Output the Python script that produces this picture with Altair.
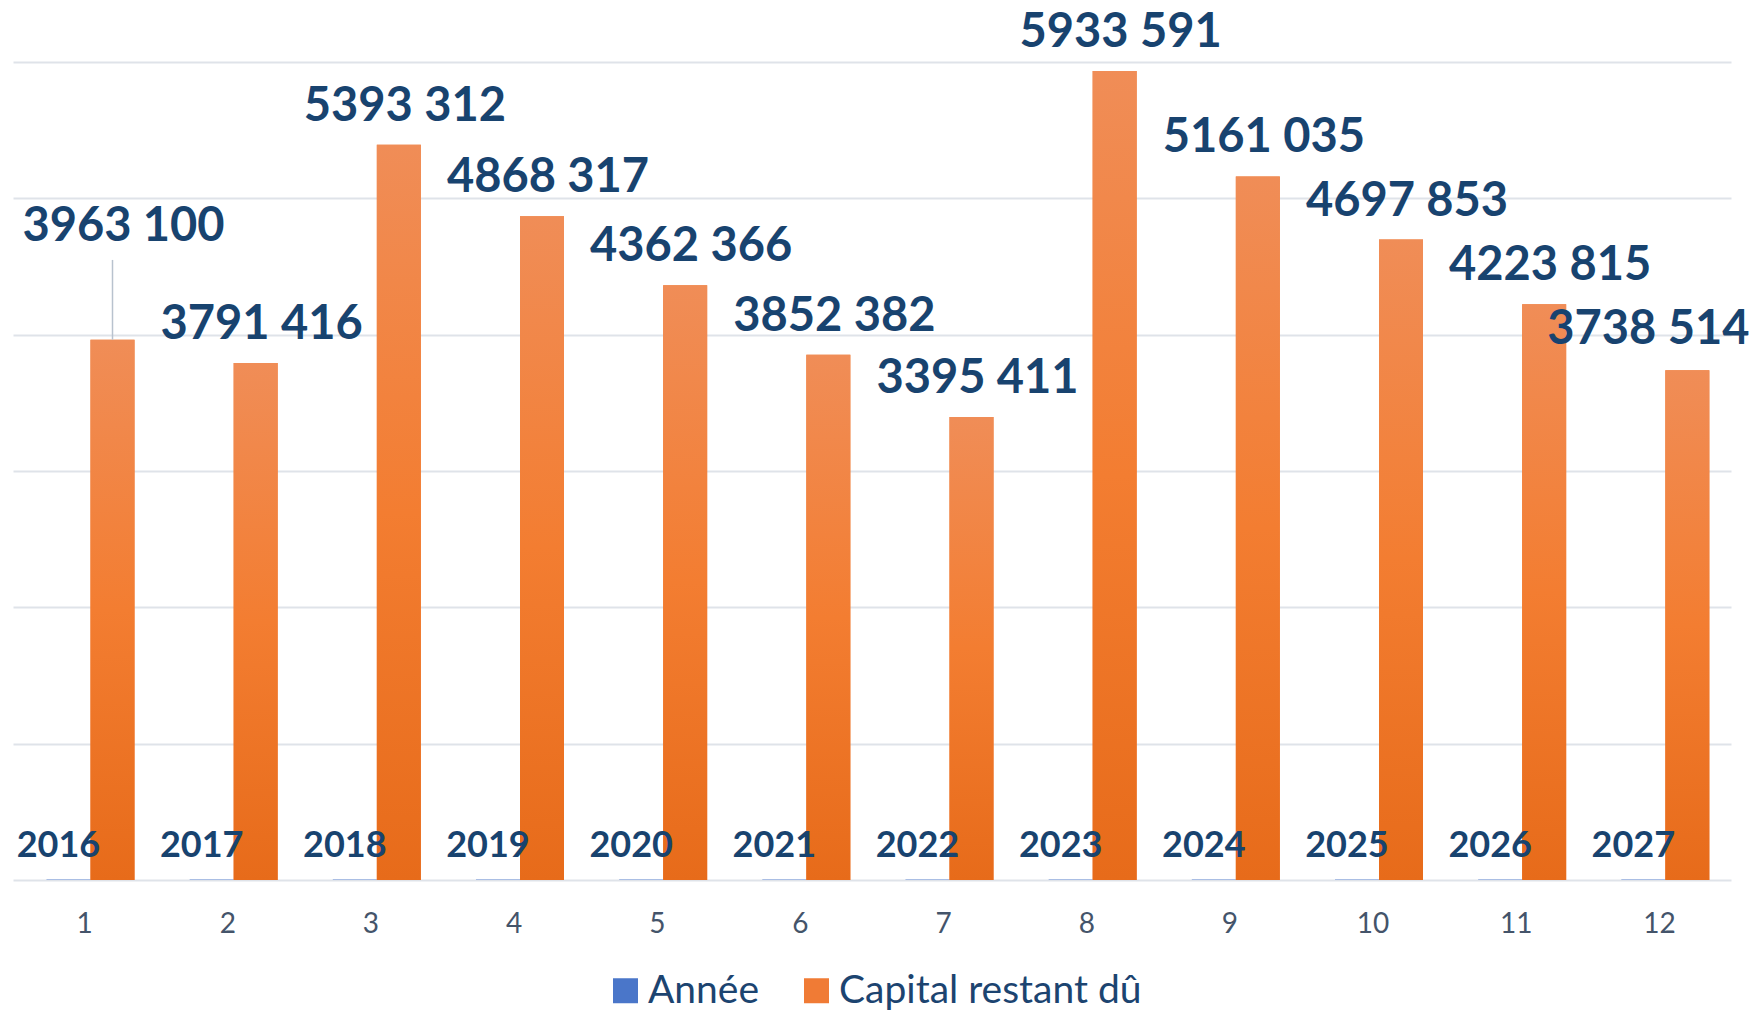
import altair as alt
import pandas as pd

categories = list(range(1, 13))
annees = [2016, 2017, 2018, 2019, 2020, 2021, 2022, 2023, 2024, 2025, 2026, 2027]
capital = [3963100, 3791416, 5393312, 4868317, 4362366, 3852382,
           3395411, 5933591, 5161035, 4697853, 4223815, 3738514]
series = ["Année", "Capital restant dû"]

rows = []
for c, a, v in zip(categories, annees, capital):
    rows.append({"cat": c, "series": series[0], "value": a, "label": str(a)})
    rows.append({"cat": c, "series": series[1], "value": v,
                 "label": f"{v // 1000} {v % 1000:03d}"})
df = pd.DataFrame(rows)

FONT = "Lato"
VAL_COLOR = "#18436f"

orange_grad = {"gradient": "linear", "x1": 0, "y1": 0, "x2": 0, "y2": 1,
               "stops": [{"offset": 0, "color": "#f08d57"},
                         {"offset": 0.5, "color": "#f37d31"},
                         {"offset": 1, "color": "#e76b1a"}]}
blue_grad = {"gradient": "linear", "x1": 0, "y1": 0, "x2": 0, "y2": 1,
             "stops": [{"offset": 0, "color": "#5b87d3"},
                       {"offset": 1, "color": "#2f63ba"}]}

x_enc = alt.X("cat:O", scale=alt.Scale(paddingInner=0, paddingOuter=0),
              axis=alt.Axis(title=None, labelAngle=0, ticks=False, tickSize=0,
                            domain=False, grid=False, labelFontSize=28,
                            labelFont=FONT, labelColor="#44546a",
                            labelBaseline="alphabetic", labelPadding=52))
y_enc = alt.Y("value:Q", scale=alt.Scale(domain=[0, 6000000], nice=False),
              axis=alt.Axis(title=None, labels=False, ticks=False, domain=False,
                            grid=True, gridColor="#dfe3e9", gridWidth=2,
                            values=[0, 1000000, 2000000, 3000000, 4000000,
                                    5000000, 6000000]))
xo_enc = alt.XOffset("series:N",
                     scale=alt.Scale(domain=series, paddingOuter=0.625,
                                     paddingInner=0, range=[6, 149]))

base = alt.Chart(df).encode(x=x_enc, y=y_enc, xOffset=xo_enc)

legend_bars = base.mark_bar().encode(
    color=alt.Color("series:N",
                    scale=alt.Scale(domain=series, range=["#4a76c9", "#f07b35"]),
                    legend=alt.Legend(title=None, orient="none", direction="horizontal",
                                      legendX=593, legendY=909, symbolType="square",
                                      symbolSize=625, symbolStrokeWidth=0,
                                      labelFont=FONT, labelFontSize=39,
                                      labelColor="#1c4470", labelOffset=3,
                                      columnPadding=37, padding=0,
                                      labelLimit=500))
)

bars_a = base.transform_filter(alt.datum.series == series[0]).mark_bar(color=blue_grad)
bars_c = base.transform_filter(alt.datum.series == series[1]).mark_bar(color=orange_grad)

text_common = dict(font=FONT, fontWeight="bold", color=VAL_COLOR,
                   baseline="alphabetic", align="center")

vals = base.transform_filter(
    (alt.datum.series == series[1]) & (alt.datum.cat != 1) & (alt.datum.cat != 12)
).mark_text(fontSize=47, dx=6, dy=-24, **text_common).encode(text="label:N")

val1 = base.transform_filter(
    (alt.datum.series == series[1]) & (alt.datum.cat == 1)
).mark_text(fontSize=47, dx=11, dy=-99, **text_common).encode(text="label:N")

val12 = base.transform_filter(
    (alt.datum.series == series[1]) & (alt.datum.cat == 12)
).mark_text(fontSize=47, dx=-39, dy=-26, **text_common).encode(text="label:N")

leader = base.transform_filter(
    (alt.datum.series == series[1]) & (alt.datum.cat == 1)
).transform_calculate(top="datum.value + 585000").mark_rule(
    color="#b8c2ce", strokeWidth=1.5
).encode(y2="top:Q")

years = base.transform_filter(alt.datum.series == series[0]).mark_text(
    fontSize=36, dx=-10, dy=-23, **text_common).encode(text="label:N")

chart = alt.layer(legend_bars, bars_a, bars_c, leader, vals, val1, val12, years).properties(
    width=1718, height=818,
    background="white",
    autosize=alt.AutoSizeParams(type="none"),
    padding={"left": 5, "top": 54, "right": 18, "bottom": 131},
).configure_view(stroke=None)

chart.save("out.html", embed_options={"renderer": "svg", "actions": False})
